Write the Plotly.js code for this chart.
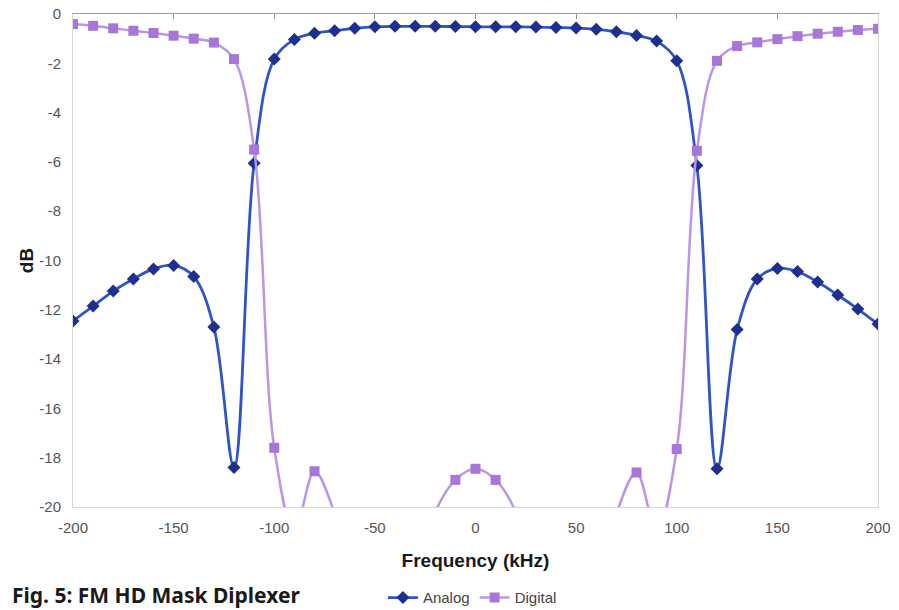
<!DOCTYPE html>
<html>
<head>
<meta charset="utf-8">
<script src="https://cdn.plot.ly/plotly-3.0.1.min.js"></script>
<style>html,body{margin:0;padding:0;background:#fff;}#chart{width:899px;height:610px;}</style>
</head>
<body>
<div id="chart"></div>
<script>
const freq = [-200,-190,-180,-170,-160,-150,-140,-130,-120,-110,-100,-90,-80,-70,-60,-50,-40,-30,-20,-10,0,10,20,30,40,50,60,70,80,90,100,110,120,130,140,150,160,170,180,190,200];
const analog = [-12.45,-11.85,-11.24,-10.75,-10.34,-10.2,-10.65,-12.7,-18.4,-6.05,-1.83,-1.03,-0.78,-0.68,-0.58,-0.52,-0.5,-0.5,-0.5,-0.51,-0.52,-0.52,-0.52,-0.53,-0.55,-0.57,-0.62,-0.72,-0.87,-1.1,-1.9,-6.15,-18.45,-12.8,-10.75,-10.32,-10.45,-10.87,-11.4,-11.97,-12.58];
const digital = [-0.41,-0.48,-0.58,-0.68,-0.77,-0.88,-1.0,-1.16,-1.83,-5.5,-17.6,-21.0,-18.55,-20.25,-23,-26,-26,-23,-20.2,-18.9,-18.45,-18.9,-20.2,-23,-26,-26,-23,-20.25,-18.6,-21.0,-17.65,-5.55,-1.9,-1.3,-1.15,-1.02,-0.9,-0.8,-0.72,-0.65,-0.6];
const xTicks = [-200,-150,-100,-50,0,50,100,150,200];
const yTicks = [0,-2,-4,-6,-8,-10,-12,-14,-16,-18,-20];

const traces = [
  {x: freq, y: analog, name: 'Analog', type: 'scatter', mode: 'lines+markers',
   line: {color: '#2f55c4', width: 2.8, shape: 'spline', smoothing: 1},
   marker: {symbol: 'diamond', size: 10, color: '#1e2f8f'}},
  {x: freq, y: digital, name: 'Digital', type: 'scatter', mode: 'lines+markers',
   line: {color: '#b996e6', width: 2.5, shape: 'spline', smoothing: 1},
   marker: {symbol: 'square', size: 10, color: '#a776d8'}}
];

const layout = {
  width: 899, height: 610,
  margin: {l: 73, r: 21, t: 14, b: 103},
  paper_bgcolor: '#ffffff', plot_bgcolor: '#ffffff',
  font: {family: 'Liberation Sans, Arial, sans-serif', color: '#555555', size: 14},
  showlegend: true,
  legend: {orientation: 'h', x: 0.385, xanchor: 'left', yref: 'container', y: 0.02, yanchor: 'middle',
           font: {size: 15, color: '#444444'}, itemwidth: 30, tracegroupgap: 0},
  xaxis: {range: [-200, 200], tickvals: xTicks, ticktext: xTicks.map(String), automargin: false,
          showgrid: false, zeroline: false, showline: true, linecolor: '#d8d8d0', linewidth: 1,
          ticks: '', ticklabelstandoff: 7, tickfont: {size: 15, color: '#555555'},
          title: {text: 'Frequency (kHz)', font: {size: 19, color: '#1a1a1a', family: 'Liberation Sans, Arial, sans-serif', weight: 'bold'}, standoff: 18}},
  xaxis2: {range: [-200, 200], overlaying: 'x', side: 'top', matches: 'x', tickvals: xTicks, automargin: false,
           showticklabels: false, ticks: 'inside', ticklen: 5, tickcolor: '#8a8f98',
           showline: true, linecolor: '#9aa0a8', linewidth: 1.5, showgrid: false, zeroline: false},
  yaxis: {range: [-20, 0], tickvals: yTicks, ticktext: yTicks.map(String), automargin: false,
          showgrid: false, zeroline: false, showline: true, mirror: true, linecolor: '#d8d8d0', linewidth: 1,
          ticks: '', ticklabelstandoff: 8, tickfont: {size: 15, color: '#555555'},
          title: {text: 'dB', font: {size: 19, color: '#1a1a1a', family: 'Liberation Sans, Arial, sans-serif', weight: 'bold'}, standoff: 0}},
  annotations: [
    {text: 'Fig. 5: FM HD Mask Diplexer', xref: 'paper', yref: 'paper', x: -0.078, y: -0.178,
     xanchor: 'left', yanchor: 'middle', showarrow: false,
     font: {family: 'Noto Sans, sans-serif', size: 21, color: '#1a1a1a', weight: 'bold'}}
  ]
};

// invisible helper trace so the top axis (ticks pointing down) is drawn
traces.push({x: [0], y: [-30], xaxis: 'x2', yaxis: 'y', showlegend: false, hoverinfo: 'skip', mode: 'markers', marker: {opacity: 0}});

Plotly.newPlot('chart', traces, layout, {displayModeBar: false, staticPlot: true});
</script>
</body>
</html>
